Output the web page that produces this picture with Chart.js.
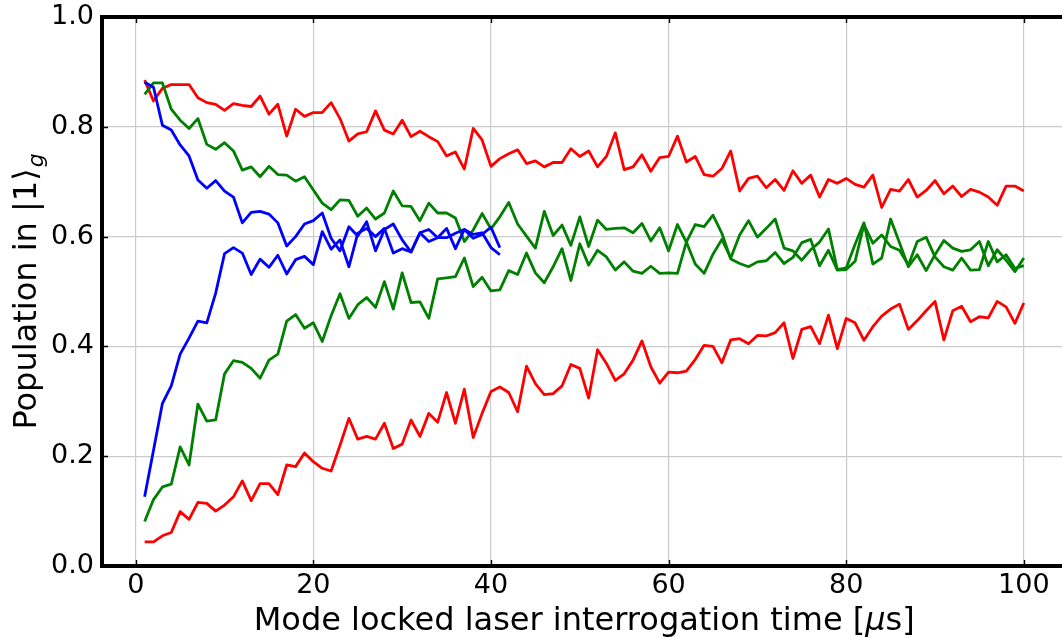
<!DOCTYPE html>
<html>
<head>
<meta charset="utf-8">
<title>Population vs interrogation time</title>
<script src="https://cdn.jsdelivr.net/npm/chart.js@4.4.1/dist/chart.umd.min.js"></script>
<style>
  html, body { margin: 0; padding: 0; background: #ffffff; overflow: hidden; }
  #wrap { width: 1062px; height: 638px; position: relative; }
  canvas { display: block; }
</style>
</head>
<body>
<div id="wrap"><canvas id="chart" width="1062" height="638"></canvas></div>
<script>
// Interrogation times in microseconds
const timeLong = [1,2,3,4,5,6,7,8,9,10,11,12,13,14,15,16,17,18,19,20,
  21,22,23,24,25,26,27,28,29,30,31,32,33,34,35,36,37,38,39,40,
  41,42,43,44,45,46,47,48,49,50,51,52,53,54,55,56,57,58,59,60,
  61,62,63,64,65,66,67,68,69,70,71,72,73,74,75,76,77,78,79,80,
  81,82,83,84,85,86,87,88,89,90,91,92,93,94,95,96,97,98,99,100];
const timeShort = [1,2,3,4,5,6,7,8,9,10,11,12,13,14,15,16,17,18,19,20,
  21,22,23,24,25,26,27,28,29,30,31,32,33,34,35,36,37,38,39,40,41];

// Red pair (long run)
const redUpper = [0.885,0.847,0.870,0.877,0.877,0.877,0.853,0.844,0.841,0.830,
  0.842,0.839,0.837,0.856,0.823,0.841,0.783,0.832,0.819,0.826,
  0.826,0.844,0.815,0.774,0.787,0.791,0.829,0.794,0.787,0.812,
  0.782,0.792,0.782,0.773,0.747,0.754,0.723,0.797,0.776,0.728,
  0.742,0.751,0.758,0.733,0.738,0.727,0.735,0.735,0.760,0.746,
  0.756,0.727,0.746,0.789,0.722,0.727,0.749,0.719,0.744,0.746,
  0.783,0.736,0.746,0.713,0.710,0.724,0.756,0.683,0.706,0.710,
  0.689,0.704,0.684,0.720,0.697,0.712,0.672,0.704,0.697,0.706,
  0.695,0.690,0.712,0.653,0.686,0.683,0.704,0.672,0.684,0.702,
  0.678,0.692,0.673,0.686,0.681,0.672,0.657,0.692,0.692,0.683];
const redLower = [0.044,0.044,0.055,0.061,0.099,0.085,0.116,0.114,0.100,0.111,
  0.126,0.155,0.119,0.150,0.150,0.130,0.184,0.181,0.206,0.190,
  0.178,0.173,0.220,0.269,0.231,0.236,0.231,0.260,0.214,0.222,
  0.266,0.236,0.278,0.262,0.316,0.260,0.322,0.234,0.278,0.318,
  0.326,0.316,0.281,0.364,0.332,0.312,0.314,0.328,0.367,0.360,
  0.306,0.394,0.369,0.338,0.350,0.375,0.410,0.363,0.333,0.353,
  0.352,0.355,0.376,0.402,0.400,0.370,0.412,0.414,0.405,0.420,
  0.419,0.425,0.443,0.378,0.431,0.436,0.405,0.457,0.396,0.451,
  0.443,0.411,0.436,0.455,0.468,0.477,0.431,0.447,0.465,0.482,
  0.412,0.465,0.473,0.445,0.454,0.452,0.482,0.472,0.442,0.479];

// Green pair (long run)
const greenUpper = [0.859,0.880,0.880,0.832,0.812,0.797,0.815,0.768,0.759,0.771,
  0.756,0.721,0.727,0.709,0.728,0.713,0.712,0.701,0.709,0.685,
  0.661,0.649,0.667,0.666,0.637,0.652,0.632,0.643,0.683,0.656,
  0.655,0.629,0.661,0.643,0.643,0.634,0.591,0.612,0.642,0.614,
  0.636,0.662,0.623,0.601,0.579,0.646,0.602,0.621,0.584,0.636,
  0.582,0.630,0.613,0.615,0.616,0.607,0.624,0.592,0.616,0.574,
  0.622,0.590,0.550,0.533,0.568,0.595,0.561,0.603,0.629,0.599,
  0.615,0.632,0.579,0.574,0.557,0.576,0.590,0.614,0.540,0.543,
  0.586,0.625,0.550,0.561,0.632,0.589,0.545,0.567,0.538,0.567,
  0.593,0.579,0.573,0.576,0.591,0.547,0.576,0.557,0.536,0.561];
const greenLower = [0.081,0.121,0.144,0.149,0.217,0.184,0.295,0.264,0.266,0.350,
  0.374,0.371,0.360,0.342,0.375,0.386,0.446,0.458,0.433,0.443,
  0.409,0.456,0.496,0.451,0.476,0.489,0.471,0.518,0.468,0.534,
  0.480,0.481,0.451,0.523,0.525,0.527,0.561,0.509,0.526,0.501,
  0.503,0.538,0.531,0.570,0.534,0.516,0.545,0.578,0.520,0.587,
  0.548,0.575,0.563,0.539,0.554,0.537,0.533,0.546,0.533,0.534,
  0.533,0.590,0.622,0.618,0.639,0.606,0.559,0.551,0.545,0.554,
  0.556,0.571,0.551,0.562,0.589,0.595,0.547,0.575,0.539,0.540,
  0.555,0.622,0.588,0.603,0.582,0.575,0.548,0.591,0.599,0.563,
  0.545,0.539,0.561,0.539,0.540,0.591,0.554,0.567,0.542,0.547];

// Blue pair (short run)
const blueUpper = [0.881,0.872,0.803,0.794,0.767,0.747,0.703,0.688,0.702,0.683,
  0.672,0.625,0.644,0.646,0.641,0.625,0.583,0.600,0.623,0.629,
  0.643,0.597,0.574,0.618,0.601,0.627,0.574,0.613,0.623,0.594,
  0.572,0.607,0.591,0.598,0.615,0.578,0.613,0.597,0.604,0.617,0.580];
const blueLower = [0.126,0.211,0.296,0.328,0.386,0.415,0.446,0.443,0.497,0.569,
  0.580,0.570,0.531,0.559,0.544,0.566,0.532,0.558,0.564,0.549,
  0.609,0.577,0.594,0.545,0.606,0.615,0.600,0.615,0.570,0.578,
  0.572,0.607,0.613,0.598,0.598,0.606,0.613,0.604,0.607,0.580,0.567];

// Tick positions
const xTickValues = [0, 20, 40, 60, 80, 100];
const yTickValues = [0.0, 0.2, 0.4, 0.6, 0.8, 1.0];

// Axis span (the right end of the frame runs past the canvas edge)
const xMin = -3.8, xMax = 104.3, xFrameMax = 104.95, xFrameMin = -3.95;

const FONT = '"DejaVu Sans", "Liberation Sans", sans-serif';

function pairs(xs, ys) {
  return ys.map((y, i) => ({ x: xs[i], y: y }));
}

function lineSet(label, xs, ys, color) {
  return {
    label: label,
    data: pairs(xs, ys),
    borderColor: color,
    backgroundColor: color,
    borderWidth: 2.8,
    pointRadius: 0,
    pointHoverRadius: 0,
    tension: 0,
    fill: false,
    borderJoinStyle: 'round',
    borderCapStyle: 'butt'
  };
}

// Frame, inward ticks and axis titles
const framePlugin = {
  id: 'frame',
  afterDraw(chart) {
    const ctx = chart.ctx;
    const a = chart.chartArea;
    const xs = chart.scales.x;
    const ys = chart.scales.y;
    ctx.save();

    // inward tick marks
    ctx.strokeStyle = '#000';
    ctx.lineWidth = 1.4;
    ctx.beginPath();
    xTickValues.forEach(v => {
      const px = Math.round(xs.getPixelForValue(v)) + 0.5;
      ctx.moveTo(px, a.bottom); ctx.lineTo(px, a.bottom - 6);
      ctx.moveTo(px, a.top); ctx.lineTo(px, a.top + 6);
    });
    yTickValues.forEach(v => {
      const py = Math.round(ys.getPixelForValue(v)) + 0.5;
      ctx.moveTo(a.left, py); ctx.lineTo(a.left + 6, py);
    });
    ctx.stroke();

    // frame
    ctx.lineWidth = 4;
    ctx.lineCap = 'square';
    const right = xs.getPixelForValue(xFrameMax);
    ctx.beginPath();
    ctx.moveTo(right, a.top);
    ctx.lineTo(a.left, a.top);
    ctx.lineTo(a.left, a.bottom);
    ctx.lineTo(right, a.bottom);
    ctx.stroke();

    ctx.fillStyle = '#000';
    ctx.textBaseline = 'alphabetic';

    // x title
    const up = '32px ' + FONT;
    const it = 'oblique 32px ' + FONT;
    const p1 = 'Mode locked laser interrogation time [';
    const p2 = '\u03bc';
    const p3 = 's]';
    ctx.font = up; const w1 = ctx.measureText(p1).width; const w3 = ctx.measureText(p3).width;
    ctx.font = it; const w2 = ctx.measureText(p2).width;
    const cx = xs.getPixelForValue((xFrameMin + xFrameMax) / 2);
    const x0 = cx - (w1 + w2 + w3) / 2;
    const base = 630;
    ctx.font = up; ctx.fillText(p1, x0, base);
    ctx.font = it; ctx.fillText(p2, x0 + w1, base);
    ctx.font = up; ctx.fillText(p3, x0 + w1 + w2, base);

    // y title, rotated and centred on the axis height
    const q1 = 'Population in |1\u27e9';
    ctx.font = up;
    const wq = ctx.measureText(q1).width;
    ctx.font = 'oblique 22px ' + FONT;
    const wg = ctx.measureText('g').width;
    const total = wq + 1 + wg;
    const cy = (a.top + a.bottom) / 2;
    ctx.translate(36, cy + total / 2);
    ctx.rotate(-Math.PI / 2);
    ctx.font = up; ctx.fillText(q1, 0, 0);
    ctx.font = 'oblique 22px ' + FONT;
    ctx.fillText('g', wq + 1, 7);

    ctx.restore();
  }
};

new Chart(document.getElementById('chart'), {
  type: 'line',
  data: {
    datasets: [
      lineSet('blue upper', timeShort, blueUpper, '#0000ff'),
      lineSet('blue lower', timeShort, blueLower, '#0000ff'),
      lineSet('green upper', timeLong, greenUpper, '#008000'),
      lineSet('green lower', timeLong, greenLower, '#008000'),
      lineSet('red upper', timeLong, redUpper, '#ff0000'),
      lineSet('red lower', timeLong, redLower, '#ff0000')
    ]
  },
  options: {
    responsive: false,
    animation: false,
    events: [],
    layout: { padding: { top: 17, right: 0, bottom: 0, left: 0 } },
    plugins: {
      legend: { display: false },
      tooltip: { enabled: false },
      title: { display: false }
    },
    scales: {
      x: {
        type: 'linear',
        min: xMin,
        max: xMax,
        afterBuildTicks(scale) {
          scale.ticks = xTickValues.map(v => ({ value: v }));
        },
        afterFit(scale) {
          scale.height = 72;
          scale.paddingLeft = 0;
          scale.paddingRight = 0;
        },
        grid: {
          color: '#cbcbcb',
          lineWidth: 1.2,
          drawTicks: false
        },
        border: { display: false },
        ticks: {
          padding: 4,
          maxRotation: 0,
          autoSkip: false,
          color: '#000',
          font: { family: FONT, size: 27 },
          callback: v => String(v)
        }
      },
      y: {
        type: 'linear',
        min: 0,
        max: 1,
        afterBuildTicks(scale) {
          scale.ticks = yTickValues.map(v => ({ value: v }));
        },
        afterFit(scale) {
          scale.width = 102;
          scale.paddingTop = 0;
          scale.paddingBottom = 0;
        },
        grid: {
          color: '#cbcbcb',
          lineWidth: 1.2,
          drawTicks: false
        },
        border: { display: false },
        ticks: {
          padding: 8,
          autoSkip: false,
          color: '#000',
          font: { family: FONT, size: 27 },
          callback: v => Number(v).toFixed(1)
        }
      }
    }
  },
  plugins: [framePlugin]
});
</script>
</body>
</html>
